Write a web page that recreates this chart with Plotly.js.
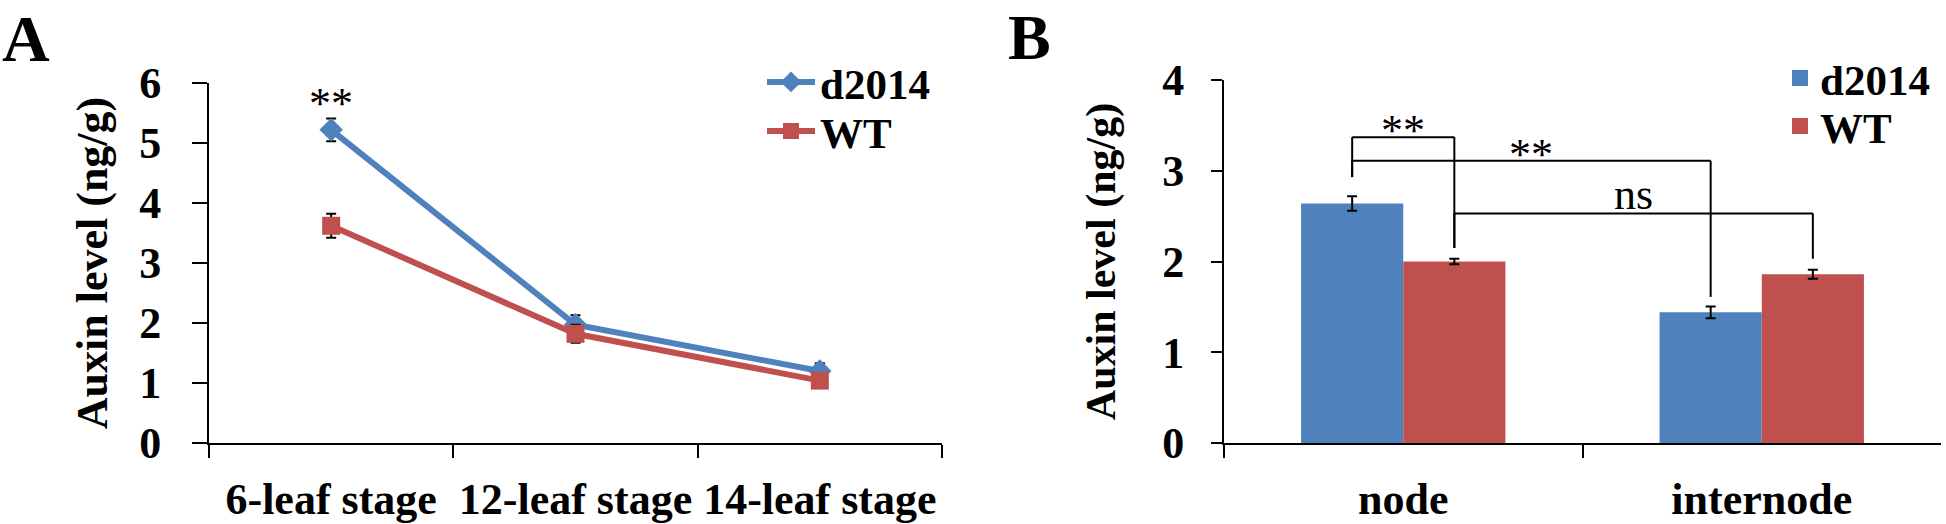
<!DOCTYPE html>
<html>
<head>
<meta charset="utf-8">
<script src="https://cdn.plot.ly/plotly-3.0.1.min.js"></script>
<style>html,body{margin:0;padding:0;background:#fff;}#chart{width:1946px;height:524px;}</style>
</head>
<body>
<div id="chart"></div>
<script>
// ---------- data ----------
const stages = ['6-leaf stage', '12-leaf stage', '14-leaf stage'];
const d2014Stage = [5.22, 1.97, 1.2];
const d2014StageErr = [0.19, 0.16, 0.13];
const wtStage = [3.62, 1.82, 1.04];
const wtStageErr = [0.2, 0.15, 0.1];
const sigA = ['**'];
const sigAStage = ['6-leaf stage'];
const sigAY = [5.66];

const tissues = ['node', 'internode'];
const d2014Tissue = [2.64, 1.44];
const d2014TissueErr = [0.08, 0.065];
const wtTissue = [2.0, 1.86];
const wtTissueErr = [0.03, 0.05];

// comparison brackets in B: [tissue, series] at each end
const bracketFrom = [['node', 'd2014'], ['node', 'd2014'], ['node', 'WT']];
const bracketTo = [['node', 'WT'], ['internode', 'd2014'], ['internode', 'WT']];
const bracketTop = [3.37, 3.11, 2.53];
const bracketFromEnd = [2.93, 2.93, 2.15];
const bracketToEnd = [2.15, 1.61, 2.03];
const bracketLabel = ['**', '**', 'ns'];
const bracketLabelY = [3.44, 3.18, 2.74];

// ---------- style ----------
const BLUE = '#4F81BD', RED = '#C0504D';
const SERIF = 'Liberation Serif, Times New Roman, serif';
const boldFont = (s) => ({family: SERIF, size: s, color: '#000', weight: 'bold'});
const plainFont = (s) => ({family: SERIF, size: s, color: '#000'});
const BARGAP = 0.43;
const barW = (1 - BARGAP) / 2;
const seriesOffset = {d2014: -barW / 2, WT: barW / 2};
const xpos = (p) => tissues.indexOf(p[0]) + seriesOffset[p[1]];

const errStyle = (arr) => ({type: 'data', array: arr, visible: true, color: '#000', thickness: 2, width: 5});

const traces = [
  {type: 'scatter', mode: 'lines+markers', name: 'd2014', x: stages, y: d2014Stage,
   xaxis: 'x', yaxis: 'y', legend: 'legend',
   line: {color: BLUE, width: 6}, marker: {symbol: 'diamond', size: 18, color: BLUE},
   error_y: errStyle(d2014StageErr)},
  {type: 'scatter', mode: 'lines+markers', name: 'WT', x: stages, y: wtStage,
   xaxis: 'x', yaxis: 'y', legend: 'legend2',
   line: {color: RED, width: 6}, marker: {symbol: 'square', size: 18, color: RED},
   error_y: errStyle(wtStageErr)},
  {type: 'bar', name: 'd2014', x: tissues, y: d2014Tissue, xaxis: 'x2', yaxis: 'y2',
   marker: {color: BLUE}, showlegend: false, error_y: errStyle(d2014TissueErr)},
  {type: 'bar', name: 'WT', x: tissues, y: wtTissue, xaxis: 'x2', yaxis: 'y2',
   marker: {color: RED}, showlegend: false, error_y: errStyle(wtTissueErr)},
  // legend-only entries for panel B (bigger square symbols)
  {type: 'scatter', mode: 'markers', name: 'd2014', x: [null], y: [null], xaxis: 'x2', yaxis: 'y2',
   legend: 'legend3', marker: {symbol: 'square', size: 16, color: BLUE}},
  {type: 'scatter', mode: 'markers', name: 'WT', x: [null], y: [null], xaxis: 'x2', yaxis: 'y2',
   legend: 'legend4', marker: {symbol: 'square', size: 16, color: RED}}
];

const shapes = [];
const annotations = [];
for (let i = 0; i < bracketTop.length; i++) {
  const x0 = xpos(bracketFrom[i]), x1 = xpos(bracketTo[i]);
  const ln = {type: 'line', xref: 'x2', yref: 'y2', line: {color: '#000', width: 2}};
  shapes.push(Object.assign({}, ln, {x0: x0, x1: x0, y0: bracketFromEnd[i], y1: bracketTop[i]}));
  shapes.push(Object.assign({}, ln, {x0: x0, x1: x1, y0: bracketTop[i], y1: bracketTop[i]}));
  shapes.push(Object.assign({}, ln, {x0: x1, x1: x1, y0: bracketTop[i], y1: bracketToEnd[i]}));
  annotations.push({xref: 'x2', yref: 'y2', x: (x0 + x1) / 2, y: bracketLabelY[i], text: bracketLabel[i],
    showarrow: false, xanchor: 'center', yanchor: 'middle', font: plainFont(44)});
}
for (let i = 0; i < sigA.length; i++) {
  annotations.push({xref: 'x', yref: 'y', x: sigAStage[i], y: sigAY[i], text: sigA[i],
    showarrow: false, xanchor: 'center', yanchor: 'middle', font: plainFont(44)});
}
annotations.push({xref: 'paper', yref: 'paper', x: 0.0, y: 1, xanchor: 'left', yanchor: 'top',
  text: 'A', showarrow: false, font: boldFont(66)});
annotations.push({xref: 'paper', yref: 'paper', x: 1006 / 1946, y: 1, xanchor: 'left', yanchor: 'top',
  text: 'B', showarrow: false, font: boldFont(64)});

const axisCommon = {
  showline: true, linecolor: '#000', linewidth: 2, ticks: 'outside', tickcolor: '#000', tickwidth: 2,
  showgrid: false, zeroline: false, automargin: false, fixedrange: true, tickfont: boldFont(44)
};
const legendCommon = {font: boldFont(43), bgcolor: 'rgba(0,0,0,0)', borderwidth: 0,
  xanchor: 'left', yanchor: 'middle', itemclick: false, itemdoubleclick: false};

const layout = {
  width: 1946, height: 524,
  margin: {l: 0, r: 0, t: 0, b: 0, pad: 0},
  paper_bgcolor: '#fff', plot_bgcolor: '#fff',
  bargap: BARGAP, bargroupgap: 0, barmode: 'group',
  xaxis: Object.assign({}, axisCommon, {domain: [209 / 1946, 942 / 1946], anchor: 'y', type: 'category',
    range: [-0.5, 2.5], tickson: 'boundaries', ticklen: 13, ticklabelstandoff: 16}),
  yaxis: Object.assign({}, axisCommon, {domain: [81 / 524, 441 / 524], anchor: 'x', range: [0, 6], dtick: 1,
    ticklen: 15, ticklabelstandoff: 22,
    title: {text: 'Auxin level (ng/g)', font: boldFont(44), standoff: 18}}),
  xaxis2: Object.assign({}, axisCommon, {domain: [1224 / 1946, 1941 / 1946], anchor: 'y2', type: 'category',
    range: [-0.5, 1.5], tickson: 'boundaries', ticklen: 13, ticklabelstandoff: 16}),
  yaxis2: Object.assign({}, axisCommon, {domain: [81 / 524, 444 / 524], anchor: 'x2', range: [0, 4], dtick: 1,
    ticklen: 11, ticklabelstandoff: 18,
    title: {text: 'Auxin level (ng/g)', font: boldFont(42), standoff: 34}}),
  legend: Object.assign({}, legendCommon, {x: 762 / 1946, y: 1 - 82 / 524, itemwidth: 48}),
  legend2: Object.assign({}, legendCommon, {x: 762 / 1946, y: 1 - 131 / 524, itemwidth: 48}),
  legend3: Object.assign({}, legendCommon, {x: 1780 / 1946, y: 1 - 78 / 524}),
  legend4: Object.assign({}, legendCommon, {x: 1780 / 1946, y: 1 - 126 / 524}),
  shapes: shapes,
  annotations: annotations,
  showlegend: true
};

Plotly.newPlot('chart', traces, layout, {displayModeBar: false, staticPlot: true});
</script>
</body>
</html>
